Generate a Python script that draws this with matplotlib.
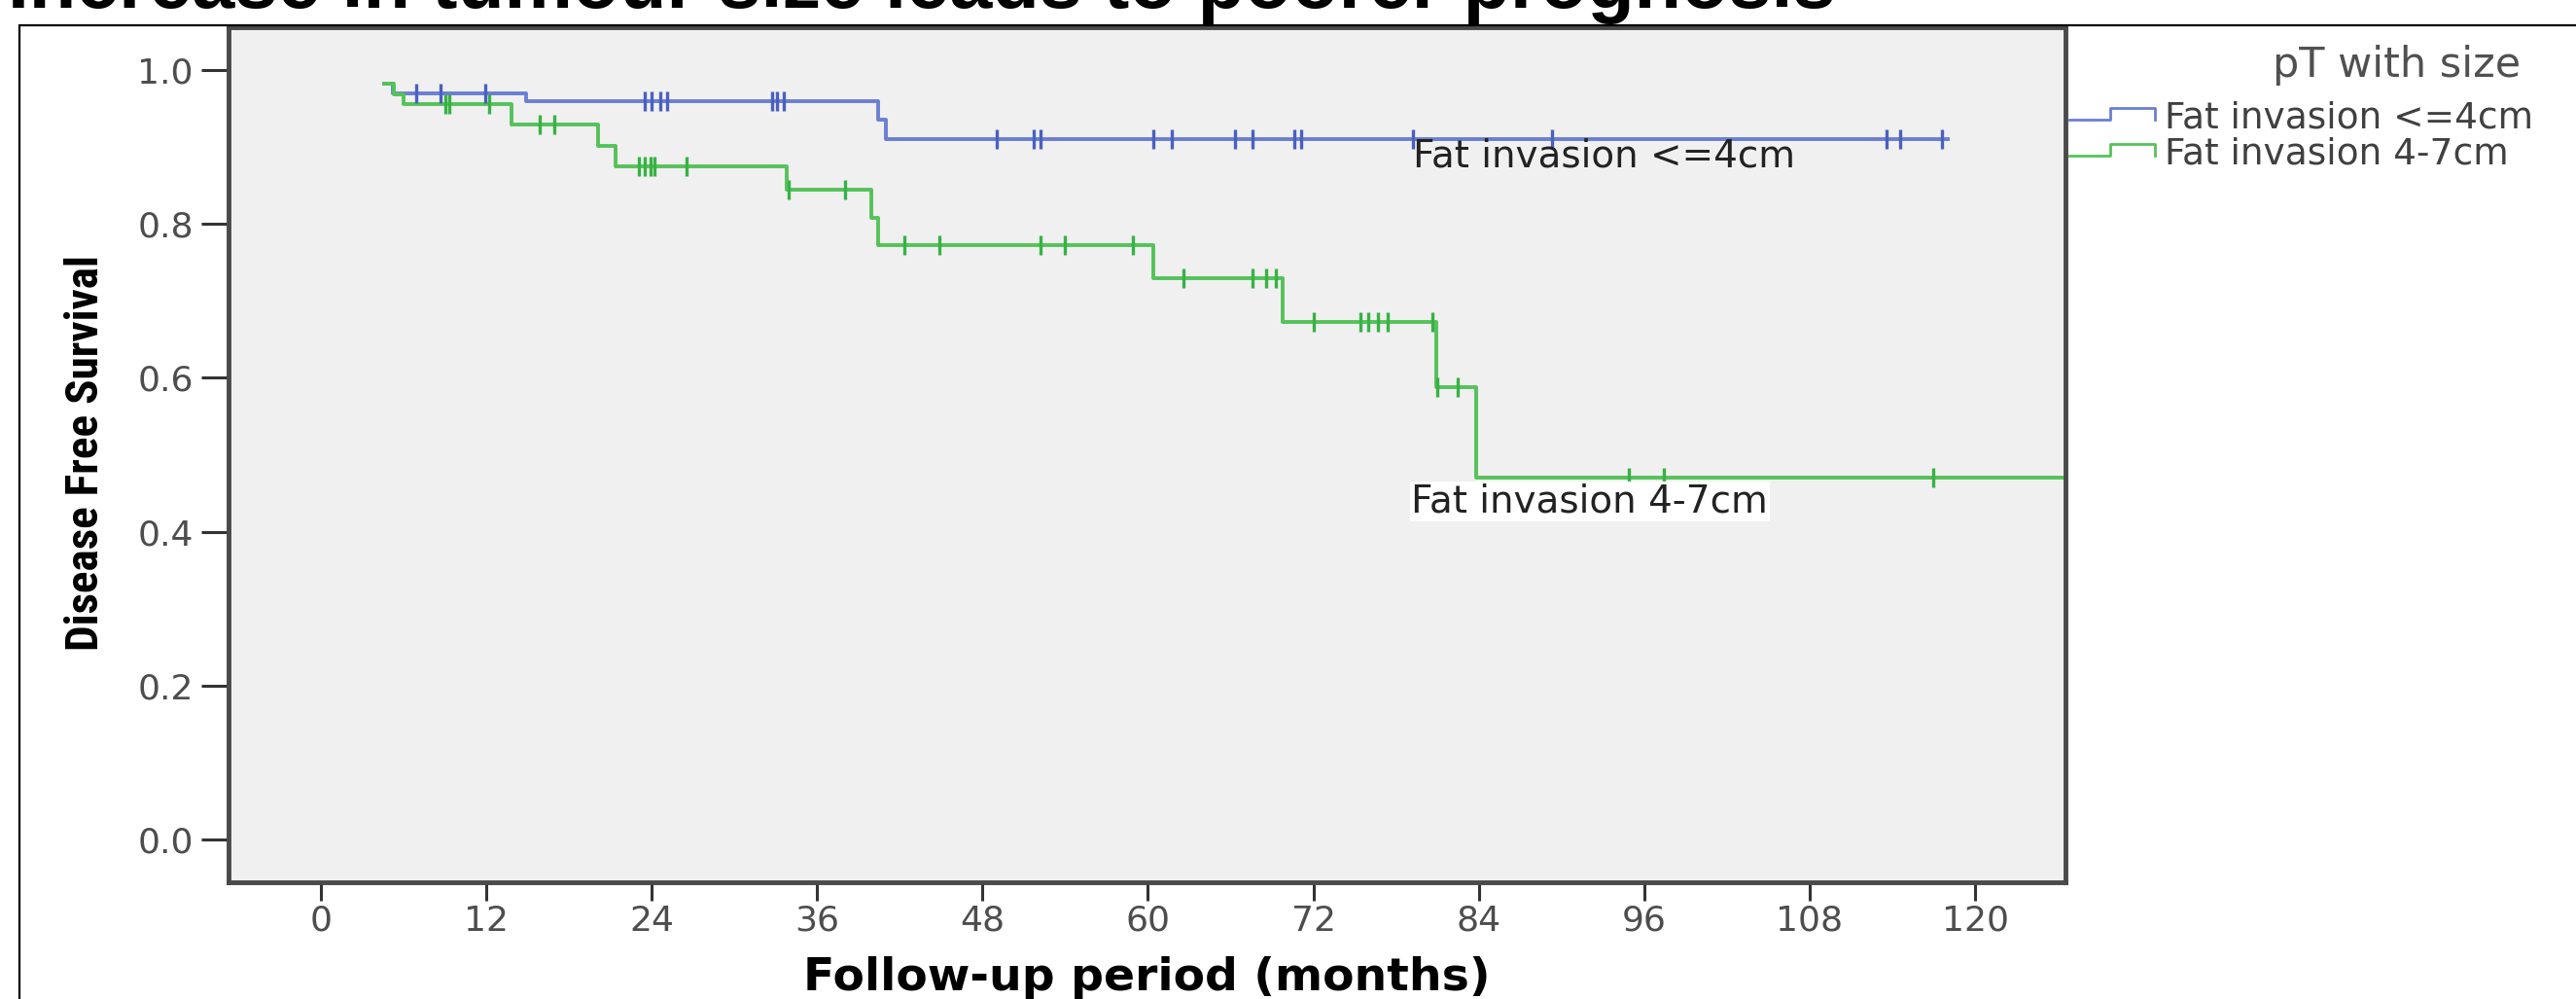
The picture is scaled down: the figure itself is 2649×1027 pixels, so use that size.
import numpy as np
import matplotlib
matplotlib.use("Agg")
import matplotlib.pyplot as plt
from matplotlib import font_manager
from matplotlib.legend_handler import HandlerBase
from matplotlib.lines import Line2D
from matplotlib.patches import Rectangle

# Kaplan-Meier steps (months, survival)
small_times = [4.6, 5.2, 14.9, 40.4, 41.0, 118.0]
small_surv = [0.982, 0.970, 0.959, 0.935, 0.910, 0.910]
small_censor = [6.9, 8.7, 11.9, 23.5, 24.0, 24.6, 25.1, 32.7, 33.1, 33.6,
                49.0, 51.7, 52.2, 60.4, 61.7, 66.3, 67.6, 70.6, 71.1, 79.2,
                89.3, 113.6, 114.6, 117.6]

large_times = [4.6, 5.3, 6.0, 13.8, 20.1, 21.4, 33.8, 39.9, 40.4, 60.4,
               69.8, 80.9, 83.8, 128.0]
large_surv = [0.982, 0.969, 0.956, 0.929, 0.902, 0.875, 0.845, 0.808, 0.773,
              0.729, 0.672, 0.588, 0.470, 0.470]
large_censor = [9.0, 9.3, 12.2, 15.9, 16.9, 23.1, 23.5, 23.9, 24.2, 26.5,
                33.9, 38.0, 42.3, 44.9, 52.2, 54.0, 58.9, 62.6, 67.6, 68.6,
                69.3, 72.0, 75.4, 76.0, 76.7, 77.4, 80.6, 81.0, 82.5, 94.9,
                97.4, 117.0]

group_labels = ["Fat invasion <=4cm", "Fat invasion 4-7cm"]
x_ticks = list(range(0, 121, 12))
y_ticks = [0.0, 0.2, 0.4, 0.6, 0.8, 1.0]

BLUE, BLUE_DARK = "#6a7fd2", "#4a60c0"
GREEN, GREEN_DARK = "#55c25a", "#38b244"


def surv_at(times, surv, t):
    idx = np.searchsorted(times, t, side="right") - 1
    return np.asarray(surv)[idx]


def pick_narrow_font():
    names = {f.name for f in font_manager.fontManager.ttflist}
    for cand in ["Liberation Sans Narrow", "Noto Sans Condensed",
                 "Noto Sans SemiCondensed", "DejaVu Sans Condensed",
                 "Roboto Condensed", "Open Sans Condensed"]:
        if cand in names:
            return cand
    for n in sorted(names):
        if "Narrow" in n or "Condensed" in n:
            return n
    return "Liberation Sans"


class StepHandler(HandlerBase):
    """Small KM-like step icon, as SPSS draws it in the legend."""
    def create_artists(self, legend, orig_handle, xdescent, ydescent,
                       width, height, fontsize, trans):
        x0, y0 = -xdescent, -ydescent
        lo, hi = y0 + 0.35 * height, y0 + 0.8 * height
        xs = [x0, x0 + 0.48 * width, x0 + 0.48 * width, x0 + width, x0 + width]
        ys = [lo, lo, hi, hi, lo]
        return [Line2D(xs, ys, color=orig_handle.get_color(), lw=2, transform=trans)]


plt.rcParams["font.family"] = "DejaVu Sans"

W, H = 2649, 1027
fig = plt.figure(figsize=(W / 100, H / 100), dpi=100)
fig.patch.set_facecolor("white")

# outer box of the slide
fig.add_artist(Rectangle((20 / W, -0.1), 1.2, 1.1 - 26 / H, transform=fig.transFigure,
                         fill=False, ec="black", lw=1.6))

fig.text(8 / W, 1 - 8 / H, "Increase in tumour size leads to poorer prognosis",
         family=["Liberation Sans", "DejaVu Sans"], weight="bold", fontsize=57,
         ha="left", va="baseline", color="black")

ax = fig.add_axes([235 / W, 1 - 907 / H, (2124 - 235) / W, (907 - 28) / H])
ax.set_facecolor("#f0f0f0")

h_small, = ax.step(small_times, small_surv, where="post", color=BLUE, lw=2.8)
h_large, = ax.step(large_times, large_surv, where="post", color=GREEN, lw=2.8)
ax.plot(small_censor, surv_at(small_times, small_surv, small_censor), ls="none",
        marker="|", ms=15, mew=2.4, color=BLUE_DARK)
ax.plot(large_censor, surv_at(large_times, large_surv, large_censor), ls="none",
        marker="|", ms=15, mew=2.4, color=GREEN_DARK)

ax.text(79.2, 0.874, group_labels[0], fontsize=28, color="#222222",
        ha="left", va="baseline")
ax.text(79.1, 0.425, group_labels[1], fontsize=28, color="#222222",
        ha="left", va="baseline",
        bbox=dict(facecolor="white", edgecolor="none", pad=1))

ax.set_xlim(-6.7, 126.56)
ax.set_ylim(-0.0556, 1.0556)
ax.set_xticks(x_ticks)
ax.set_yticks(y_ticks)
ax.set_yticklabels([f"{v:.1f}" for v in y_ticks])
ax.tick_params(axis="y", length=20, width=2.2, color="#333333", pad=6,
               labelsize=26, labelcolor="#4d4d4d")
ax.tick_params(axis="x", length=13.5, width=2.2, color="#333333", pad=3,
               labelsize=26, labelcolor="#4d4d4d")
for sp in ax.spines.values():
    sp.set_color("#4a4a4a")
    sp.set_linewidth(3.5)

narrow = pick_narrow_font()
ylab = ax.set_ylabel("Disease Free Survival", family=[narrow, "DejaVu Sans"],
                     weight="bold", fontsize=34, color="black")
ax.yaxis.set_label_coords(-0.066, 0.502)
ax.set_xlabel("Follow-up period (months)", weight="bold", fontsize=34, color="black")
ax.xaxis.set_label_coords(0.5, -0.0865)

fig.text(2465 / W, 1 - 79 / H, "pT with size", fontsize=31, color="#505050",
         ha="center", va="baseline")
fig.legend([h_small, h_large], group_labels, handler_map={Line2D: StepHandler()},
           loc="upper left", bbox_to_anchor=(2128 / W, 1 - 104 / H),
           frameon=False, borderaxespad=0, borderpad=0, fontsize=27,
           handlelength=2.35, handletextpad=0.27, labelspacing=0.02,
           labelcolor="#404040")

# fit the y label to the length it has in the original (about 407 px)
fig.canvas.draw()
ext = ylab.get_window_extent()
ylab.set_fontsize(34 * 407 / ext.height)

fig.savefig("out.png", dpi=100)
